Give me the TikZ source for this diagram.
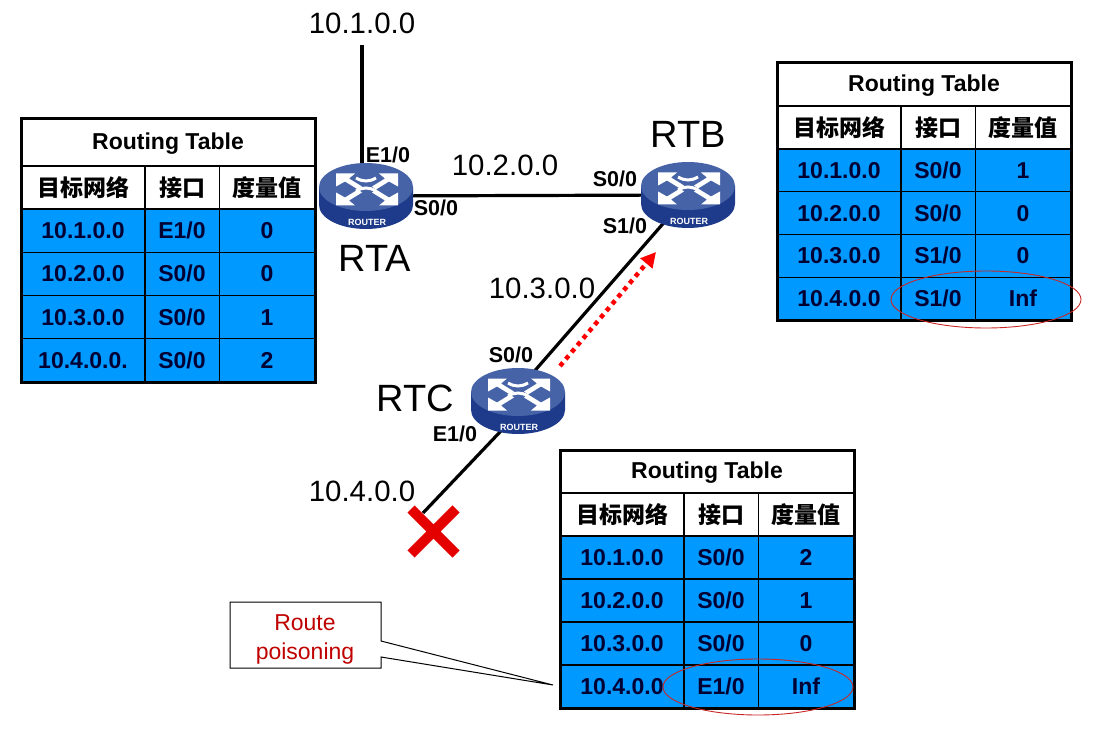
\documentclass[tikz,border=0pt]{standalone}
\usepackage{fontspec}
\setmainfont{Liberation Sans}
\newfontfamily\cjk{Noto Sans CJK SC}
\usetikzlibrary{arrows.meta,shapes.geometric}
\definecolor{cellblue}{HTML}{0099FF}
\definecolor{celltext}{HTML}{000033}
\definecolor{poison}{HTML}{C00000}
\definecolor{rtop}{HTML}{4763A8}
\definecolor{rside}{HTML}{1E3A8A}
\newcommand\fs[1]{\fontsize{#1}{#1}\selectfont}
\tikzset{
  x=1pt,y=-1pt,
  link/.style={line width=3.2pt,black},
  netlabel/.style={inner sep=0pt,font=\fs{29.4}},
  rname/.style={inner sep=0pt,font=\fs{38}},
  port/.style={inner sep=0pt,font=\fs{21.5}\bfseries},
  cell/.style={inner sep=0pt,font=\fs{23}\bfseries,text=celltext},
  headcell/.style={inner sep=0pt,font=\fs{23}\bfseries,text=black},
  cjkcell/.style={inner sep=0pt,font=\fs{23}\cjk\bfseries,text=black},
  routerbody/.style={ellipse,minimum width=94pt,minimum height=66pt,inner sep=0pt},
  redring/.style={draw=poison!85!white,line width=0.9pt},
  pics/router/.style={code={
    \fill[rside] (-47,0) -- (-47,18) arc[start angle=180,end angle=0,x radius=47,y radius=24] -- (47,0) -- cycle;
    \fill[rtop] (0,0) ellipse[x radius=47,y radius=24];
    \foreach \sx/\sy in {1/1,-1/1,1/-1,-1/-1}{
      \begin{scope}[xshift=1pt,yshift=-2.5pt,xscale=\sx,yscale=\sy]
        \fill[white] (31,16) -- (12,16) -- (18,11) -- (5,3) -- (9,0) -- (22,8) -- (31,3) -- cycle;
      \end{scope}
    }
    \draw[white,line width=3pt] (-10,-9) .. controls (-3,-5) and (3,-5) .. (10,-9);
    \draw[white,line width=3pt] (-10,4) .. controls (-3,0) and (3,0) .. (10,4);
    \node[inner sep=0pt,text=white,font=\fs{9}\bfseries] at (1,35) {ROUTER};
  }}
}
% table frame: prefix, left x, top y, title bottom, header bottom, bottom y
\newcommand\rtable[6]{%
  \def\tp{#1}\def\tx{#2}\def\tb{#5}\def\te{#6}%
  \fill[white] (#2,#3) rectangle ({#2+294},#6);
  \fill[cellblue] (#2,#5) rectangle ({#2+294},#6);
  \foreach \k in {1,2,3}{\draw[black,line width=1.3pt] (#2,{#5+(#6-#5)*\k/4}) -- ({#2+294},{#5+(#6-#5)*\k/4});}
  \draw[black,line width=1.3pt] (#2,#4) -- ({#2+294},#4);
  \draw[black,line width=1.3pt] (#2,#5) -- ({#2+294},#5);
  \draw[black,line width=1.3pt] ({#2+124},#4) -- ({#2+124},#6);
  \draw[black,line width=1.3pt] ({#2+198.5},#4) -- ({#2+198.5},#6);
  \draw[black,line width=3pt] (#2,#3) rectangle ({#2+294},#6);
  \node[headcell] (#1title) at ({#2+147},{(#3+#4)/2+1}) {Routing Table};
  \node[cjkcell] (#1h1) at ({#2+62},{(#4+#5)/2}) {目标网络};
  \node[cjkcell] (#1h2) at ({#2+161},{(#4+#5)/2}) {接口};
  \node[cjkcell] (#1h3) at ({#2+246},{(#4+#5)/2}) {度量值};
}
\newcommand\rrow[4]{%
  \pgfmathsetmacro\ry{\tb+(\te-\tb)*(#1-0.5)/4}%
  \node[cell] (\tp r#1a) at ({\tx+62},\ry) {#2};
  \node[cell] (\tp r#1b) at ({\tx+161},\ry) {#3};
  \node[cell] (\tp r#1c) at ({\tx+246},\ry) {#4};
}
\begin{document}
\begin{tikzpicture}
\path[use as bounding box] (0,0) rectangle (1118,735);
% router anchors
\node[routerbody] (rta) at (366,196) {};
\node[routerbody] (rtb) at (688,195) {};
\node[routerbody] (rtc) at (518,401) {};
\coordinate (topnet) at (362,45);
\coordinate (rtcup) at (518,390);
\coordinate (rtcdown) at (518,413);
\coordinate (lan) at (423,513);
\coordinate (arrowstart) at (560,366);
\coordinate (arrowend) at (656,252);
% connectors
\draw[link] (topnet) -- (topnet |- rta);
\draw[link] (rta) -- (rtb);
\draw[link] (rtb) -- (rtcup);
\draw[link] (rtcdown) -- (lan);
\draw[red,line width=4.5pt,dash pattern=on 4.5pt off 4.5pt,-{Triangle[length=15pt,width=15pt]}] (arrowstart) -- (arrowend);
% routers
\pic at (366,187) {router};
\pic at (688,186) {router};
\pic at (518,392) {router};
% labels
\node[netlabel] (n1) at (362,23) {10.1.0.0};
\node[netlabel] (n2) at (505,165) {10.2.0.0};
\node[netlabel] (n3) at (542,288) {10.3.0.0};
\node[netlabel] (n4) at (362,491) {10.4.0.0};
\node[rname] (la) at (375,258) {RTA};
\node[rname] (lb) at (688,134) {RTB};
\node[rname] (lc) at (415,398) {RTC};
\node[port] (p1) at (388,155) {E1/0};
\node[port] (p2) at (436,208) {S0/0};
\node[port] (p3) at (615,179) {S0/0};
\node[port] (p4) at (625,226) {S1/0};
\node[port] (p5) at (511,355) {S0/0};
\node[port] (p6) at (455,434) {E1/0};
% failure cross
\coordinate (xa) at (411,509);\coordinate (xb) at (456,554);
\coordinate (xc) at (456,509);\coordinate (xd) at (411,554);
\draw[red!90!black,line width=10pt] (xa) -- (xb) (xc) -- (xd);
% tables
\rtable{a}{21}{119}{166}{209}{382}
\rrow{1}{10.1.0.0}{E1/0}{0}
\rrow{2}{10.2.0.0}{S0/0}{0}
\rrow{3}{10.3.0.0}{S0/0}{1}
\rrow{4}{10.4.0.0.}{S0/0}{2}
\rtable{b}{777}{63}{106}{149}{320}
\rrow{1}{10.1.0.0}{S0/0}{1}
\rrow{2}{10.2.0.0}{S0/0}{0}
\rrow{3}{10.3.0.0}{S1/0}{0}
\rrow{4}{10.4.0.0}{S1/0}{Inf}
\rtable{c}{560}{450}{493}{536}{708}
\rrow{1}{10.1.0.0}{S0/0}{2}
\rrow{2}{10.2.0.0}{S0/0}{1}
\rrow{3}{10.3.0.0}{S0/0}{0}
\rrow{4}{10.4.0.0}{E1/0}{Inf}
% highlight rings
\node[ellipse,redring,minimum width=190pt,minimum height=57pt,inner sep=0pt] (ringb) at (986,299.5) {};
\node[ellipse,redring,minimum width=190pt,minimum height=56pt,inner sep=0pt] (ringc) at (758,687) {};
% callout
\coordinate (tip) at (553,685);
\draw[black,fill=white,line width=1pt] (230,602) -- (381,602) -- (381,641) -- (tip) -- (381,657) -- (381,668) -- (230,668) -- cycle;
\node[text=poison,font=\fs{23},align=center,inner sep=0pt] (cal) at (305,639) {Route\\[6pt]poisoning};
\end{tikzpicture}
\end{document}
